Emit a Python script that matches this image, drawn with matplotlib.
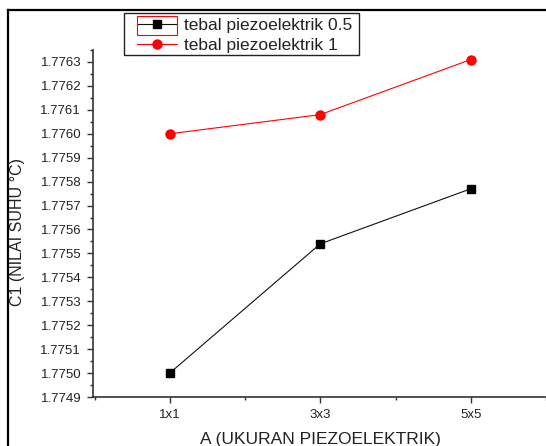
import matplotlib.pyplot as plt
import numpy as np
from matplotlib.lines import Line2D
from matplotlib.patches import Rectangle
from matplotlib.ticker import MultipleLocator, FormatStrFormatter

plt.rcParams["font.family"] = ["Liberation Sans", "DejaVu Sans"]

sizes = ["1x1", "3x3", "5x5"]
thick_05 = [1.77500, 1.77554, 1.77577]
thick_1 = [1.77600, 1.77608, 1.77631]
series_names = ["tebal piezoelektrik 0.5", "tebal piezoelektrik 1"]

fig = plt.figure(figsize=(5.46, 4.46), dpi=100)
W, H = 546.0, 446.0
ax = fig.add_axes([93 / W, 1 - 397 / H, (546 - 93) / W, (397 - 50) / H])

x = np.arange(1, len(sizes) + 1)
ax.plot(x, thick_05, color="#111111", lw=0.8, marker="s", ms=6,
        mfc="black", mec="black", label=series_names[0])
ax.plot(x, thick_1, color="red", lw=0.8, marker="o", ms=6.5,
        mfc="red", mec="red", label=series_names[1])

ax.set_xlim(0.49, 3.5)
ax.set_ylim(1.7749, 1.77635)
ax.set_xticks(x)
ax.set_xticklabels(sizes)
ax.xaxis.set_minor_locator(MultipleLocator(0.5))
ax.yaxis.set_major_locator(MultipleLocator(0.0001))
ax.yaxis.set_minor_locator(MultipleLocator(0.00005))
ax.yaxis.set_major_formatter(FormatStrFormatter("%.4f"))

for side in ["top", "right"]:
    ax.spines[side].set_visible(False)
for side in ["left", "bottom"]:
    ax.spines[side].set_color("#333333")
    ax.spines[side].set_linewidth(1.2)

ax.tick_params(axis="y", which="major", length=4.5, width=1, color="#333333",
               labelsize=9.5, labelcolor="#222222", pad=4)
ax.tick_params(axis="x", which="major", length=4.5, width=1, color="#333333",
               labelsize=9.5, labelcolor="#222222", pad=4)
ax.tick_params(which="minor", length=2.5, width=1, color="#333333")

fig.text(18 / W, 1 - 232 / H, "C1 (NILAI SUHU °C)", rotation=90,
         ha="center", va="center", fontsize=11.5, color="#222222")
fig.text(320 / W, 1 - 432 / H, "A (UKURAN PIEZOELEKTRIK)",
         ha="center", va="top", fontsize=12.5, color="#222222")

leg = ax.legend(loc="upper left", bbox_to_anchor=(137 / W, 1 - 18 / H),
                bbox_transform=fig.transFigure, borderaxespad=0,
                fontsize=12.5, frameon=False,
                handlelength=2.3, handletextpad=0.4,
                labelspacing=0.25, borderpad=0)
for t in leg.get_texts():
    t.set_color("#222222")
# legend box, drawn separately so its padding matches the original
fig.add_artist(Rectangle((124 / W, 1 - 55 / H), (359 - 124) / W, 42 / H,
                         transform=fig.transFigure, fill=False,
                         edgecolor="#222222", lw=1.0))

# outer frame of the exported graph page
fig.add_artist(Line2D([8 / W, 8 / W], [0, 1 - 10 / H], color="black", lw=1.6))
fig.add_artist(Line2D([8 / W, 1], [1 - 10 / H, 1 - 10 / H], color="black", lw=1.6))
# selection box around the first legend handle
fig.add_artist(Rectangle((137 / W, 1 - 35 / H), 40 / W, 19 / H,
                         transform=fig.transFigure, fill=False,
                         edgecolor="red", lw=0.8))

fig.savefig("out.png", dpi=100)
